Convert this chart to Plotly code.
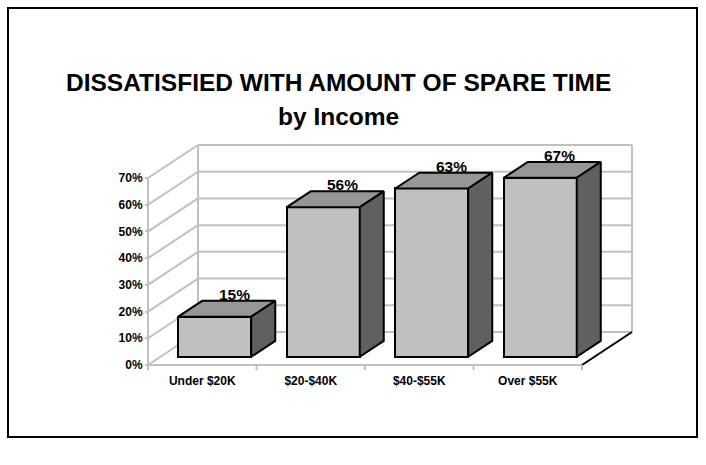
import plotly.graph_objects as go

# ---- data -------------------------------------------------------------
categories = ["Under $20K", "$20-$40K", "$40-$55K", "Over $55K"]
values = [15, 56, 63, 67]
value_labels = ["15%", "56%", "63%", "67%"]
y_ticks = [0, 10, 20, 30, 40, 50, 60, 70]
y_tick_labels = ["0%", "10%", "20%", "30%", "40%", "50%", "60%", "70%"]

# ---- geometry of the pseudo-3D frame ------------------------------------
W, H = 706, 465
PX_X = 108.5          # pixels per category slot
PX_Y = 2.671          # pixels per percentage point
FRONT_LEFT = 148      # pixel x where the front floor edge starts
FRONT_BASE = 365      # pixel y of 0% on the front edge

X0 = -0.5 - FRONT_LEFT / PX_X
X1 = X0 + W / PX_X
Y1 = FRONT_BASE / PX_Y
Y0 = Y1 - H / PX_Y

DX = 50 / PX_X        # full depth, horizontal component (x units)
DY = 33 / PX_Y        # full depth, vertical component (% units)
D0, D1 = 0.25, 0.73   # front / back depth of the bars
BAR_W = 73 / PX_X
WALL_TOP = 70

GRID = "#c0c0c0"
FRONT = "#c0c0c0"
TOP = "#969696"
SIDE = "#606060"
FONT = "Liberation Sans, Arial, sans-serif"

n = len(categories)
left, right = -0.5, n - 0.5

shapes = []


def seg(xa, ya, xb, yb, color=GRID, width=2):
    shapes.append(dict(type="line", xref="x", yref="y", x0=xa, y0=ya, x1=xb, y1=yb,
                       line=dict(color=color, width=width), layer="below"))


# back wall with its gridlines
for v in y_ticks:
    seg(left + DX, v + DY, right + DX, v + DY)
seg(left + DX, DY, left + DX, WALL_TOP + DY)
seg(right + DX, DY, right + DX, WALL_TOP + DY)
# left wall: front edge and diagonal gridlines
seg(left, 0, left, WALL_TOP)
for v in y_ticks:
    seg(left, v, left + DX, v + DY)
# floor
seg(left, 0, right, 0)
seg(right, 0, right + DX, DY, color="black", width=2)
# category boundary ticks on the front edge
for k in range(n + 1):
    seg(left + k, 0, left + k, -5 / PX_Y)

# outer frame
shapes.append(dict(type="rect", xref="paper", yref="paper",
                   x0=8 / W, x1=697 / W, y0=1 - 437 / H, y1=1 - 8 / H,
                   line=dict(color="black", width=2), layer="above"))

fig = go.Figure()

# front faces of the bars
fig.add_trace(go.Bar(
    x=[i + D0 * DX for i in range(n)], y=values, base=D0 * DY, width=BAR_W,
    marker=dict(color=FRONT, line=dict(color="black", width=2)),
    hoverinfo="skip", showlegend=False,
))

# top and side faces
w = (D1 - D0) * DX
b0, b1 = D0 * DY, D1 * DY
for i, v in enumerate(values):
    xl = i + D0 * DX - BAR_W / 2
    xr = xl + BAR_W
    fig.add_trace(go.Scatter(
        x=[xl, xr, xr + w, xl + w, xl], y=[v + b0, v + b0, v + b1, v + b1, v + b0],
        mode="lines", fill="toself", fillcolor=TOP,
        line=dict(color="black", width=2), hoverinfo="skip", showlegend=False))
    fig.add_trace(go.Scatter(
        x=[xr, xr, xr + w, xr + w, xr], y=[b0, v + b0, v + b1, v + b1 - v, b0],
        mode="lines", fill="toself", fillcolor=SIDE,
        line=dict(color="black", width=2), hoverinfo="skip", showlegend=False))

annotations = []
for i, (v, lab) in enumerate(zip(values, value_labels)):
    annotations.append(dict(
        x=i + D1 * DX - 0.04, y=v + D1 * DY, xref="x", yref="y",
        text="<b>" + lab + "</b>", showarrow=False, yanchor="bottom", yshift=-4,
        font=dict(family=FONT, size=15.5, color="black")))

annotations.append(dict(
    x=338 / W, y=1 - 83 / H, xref="paper", yref="paper",
    text="<b>DISSATISFIED WITH AMOUNT OF SPARE TIME</b>", showarrow=False,
    xanchor="center", yanchor="middle",
    font=dict(family=FONT, size=24.5, color="black")))
annotations.append(dict(
    x=338 / W, y=1 - 116 / H, xref="paper", yref="paper",
    text="<b>by Income</b>", showarrow=False,
    xanchor="center", yanchor="middle",
    font=dict(family=FONT, size=24.5, color="black")))

fig.update_layout(
    width=W, height=H,
    margin=dict(l=0, r=0, t=0, b=0),
    paper_bgcolor="white", plot_bgcolor="white",
    shapes=shapes, annotations=annotations,
    bargap=0,
    xaxis=dict(
        range=[X0, X1], showgrid=False, zeroline=False, showline=False,
        tickmode="array", tickvals=list(range(n)),
        ticktext=["<b>" + c + "</b>" for c in categories],
        ticks="outside", ticklen=5, tickcolor="rgba(0,0,0,0)",
        tickfont=dict(family=FONT, size=12, color="black"),
        anchor="free", position=1 - FRONT_BASE / H, fixedrange=True,
    ),
    yaxis=dict(
        range=[Y0, Y1], showgrid=False, zeroline=False, showline=False,
        tickmode="array", tickvals=y_ticks, ticktext=["<b>" + t + "</b>" for t in y_tick_labels],
        ticks="outside", ticklen=3, tickcolor=GRID, tickwidth=2,
        tickfont=dict(family=FONT, size=12, color="black"),
        anchor="free", position=FRONT_LEFT / W, fixedrange=True,
    ),
)

fig.write_html("out.html")
